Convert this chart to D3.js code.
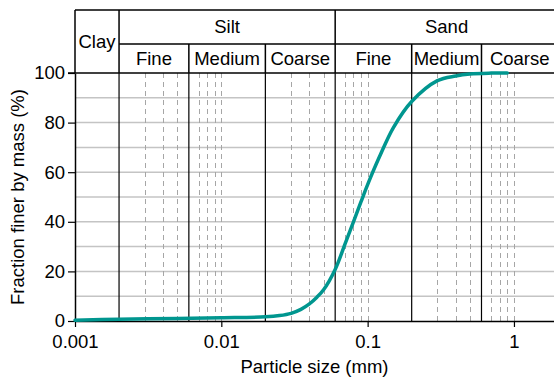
<!DOCTYPE html>
<html>
<head>
<meta charset="utf-8">
<script src="https://cdn.jsdelivr.net/npm/d3@7"></script>
<style>
  html, body { margin: 0; padding: 0; background: #fff; }
  svg { display: block; font-family: "Liberation Sans", Arial, sans-serif; }
</style>
</head>
<body>
<svg id="chart" width="554" height="377"></svg>
<script>
// Grain-size distribution (cumulative percent finer)
const particleSize = [0.001, 0.002, 0.005, 0.01, 0.02, 0.025, 0.03, 0.035, 0.04, 0.045, 0.05, 0.06, 0.07, 0.08, 0.09, 0.1, 0.12, 0.15, 0.2, 0.3, 0.4, 0.5, 0.7, 0.9];
const percentFiner = [0.3, 0.7, 1.0, 1.3, 1.7, 2.2, 3.1, 4.7, 6.9, 9.6, 12.6, 20.8, 31, 40, 48, 55, 66, 78, 88.5, 96.9, 98.8, 99.6, 99.95, 100];

// Soil class boundaries (mm)
const classNames = ["Clay", "Silt", "Sand"];
const classEdges = [0.001, 0.002, 0.06, 2];
const subNames = ["Fine", "Medium", "Coarse", "Fine", "Medium", "Coarse"];
const subEdges = [0.002, 0.006, 0.02, 0.06, 0.2, 0.6, 2];
const minorSizes = [0.003, 0.004, 0.005, 0.007, 0.008, 0.009, 0.01,
                    0.03, 0.04, 0.05, 0.07, 0.08, 0.09, 0.1,
                    0.3, 0.4, 0.5, 0.7, 0.8, 0.9, 1];
const xTicks = [0.001, 0.01, 0.1, 1];
const xTickLabels = ["0.001", "0.01", "0.1", "1"];
const yTicks = [0, 20, 40, 60, 80, 100];
const yGrid = [10, 20, 30, 40, 50, 60, 70, 80, 90];

const svg = d3.select("#chart");
const mLeft = 75, mRight = 558, mTop = 10, midLine = 44, plotTop = 73, plotBottom = 321;
const fontSize = 18.5;

const x = d3.scaleLog().domain([0.001, 2]).range([mLeft, mRight]);
const y = d3.scaleLinear().domain([0, 100]).range([plotBottom, plotTop]);

// horizontal grid
svg.append("g").selectAll("line").data(yGrid).join("line")
  .attr("x1", mLeft).attr("x2", mRight)
  .attr("y1", d => y(d)).attr("y2", d => y(d))
  .attr("stroke", "#c4c4c4").attr("stroke-width", 1.5);

// dashed minor lines
svg.append("g").selectAll("line").data(minorSizes).join("line")
  .attr("x1", d => Math.round(x(d)) + 0.5).attr("x2", d => Math.round(x(d)) + 0.5)
  .attr("y1", plotTop).attr("y2", plotBottom)
  .attr("stroke", "#a6a6a6").attr("stroke-width", 1)
  .attr("stroke-dasharray", "5,4");

// class boundary lines through the plot
svg.append("g").selectAll("line").data(subEdges.slice(0, -1)).join("line")
  .attr("x1", d => x(d)).attr("x2", d => x(d))
  .attr("y1", plotTop).attr("y2", plotBottom)
  .attr("stroke", "#000").attr("stroke-width", 1.2);

// header frame
const header = svg.append("g");
header.append("line").attr("x1", mLeft).attr("x2", mRight).attr("y1", mTop).attr("y2", mTop)
  .attr("stroke", "#000").attr("stroke-width", 1.5);
header.append("line").attr("x1", x(0.002)).attr("x2", mRight).attr("y1", midLine).attr("y2", midLine)
  .attr("stroke", "#000").attr("stroke-width", 1.5);
header.append("line").attr("x1", mLeft - 7).attr("x2", mRight).attr("y1", plotTop).attr("y2", plotTop)
  .attr("stroke", "#000").attr("stroke-width", 1.5);
header.selectAll("line.cls").data(classEdges.slice(0, -1)).join("line")
  .attr("class", "cls")
  .attr("x1", d => x(d)).attr("x2", d => x(d))
  .attr("y1", mTop).attr("y2", plotTop)
  .attr("stroke", "#000").attr("stroke-width", 1.5);
header.selectAll("line.sub").data([0.006, 0.02, 0.2, 0.6]).join("line")
  .attr("class", "sub")
  .attr("x1", d => x(d)).attr("x2", d => x(d))
  .attr("y1", midLine).attr("y2", plotTop)
  .attr("stroke", "#000").attr("stroke-width", 1.5);

// class names
header.selectAll("text.cls").data(classNames).join("text")
  .attr("class", "cls")
  .attr("x", (d, i) => (x(classEdges[i]) + x(classEdges[i + 1])) / 2)
  .attr("y", (d, i) => i === 0 ? 48 : 33)
  .attr("text-anchor", "middle").attr("font-size", fontSize).attr("fill", "#000")
  .text(d => d);
header.selectAll("text.sub").data(subNames).join("text")
  .attr("class", "sub")
  .attr("x", (d, i) => (x(subEdges[i]) + x(subEdges[i + 1])) / 2)
  .attr("y", 65)
  .attr("text-anchor", "middle").attr("font-size", fontSize).attr("fill", "#000")
  .text(d => d);

// axes
const yAxis = svg.append("g").attr("transform", `translate(${mLeft},0)`)
  .call(d3.axisLeft(y).tickValues(yTicks).tickSize(7).tickPadding(3).tickSizeOuter(0));
const xAxis = svg.append("g").attr("transform", `translate(0,${plotBottom})`)
  .call(d3.axisBottom(x).tickValues(xTicks).tickFormat((d, i) => xTickLabels[i]).tickSize(6).tickPadding(8).tickSizeOuter(0));
[yAxis, xAxis].forEach(g => {
  g.select(".domain").attr("stroke", "#000").attr("stroke-width", 1.5);
  g.selectAll(".tick line").attr("stroke", "#000").attr("stroke-width", 1.2);
  g.selectAll("text").attr("font-size", fontSize).attr("fill", "#000")
    .attr("font-family", "Liberation Sans, Arial, sans-serif");
});

// axis titles
svg.append("text").attr("x", (mLeft + 554) / 2).attr("y", 373)
  .attr("text-anchor", "middle").attr("font-size", fontSize).text("Particle size (mm)");
svg.append("text")
  .attr("transform", `translate(24,${(plotTop + plotBottom) / 2}) rotate(-90)`)
  .attr("text-anchor", "middle").attr("font-size", fontSize).text("Fraction finer by mass (%)");

// distribution curve
const line = d3.line()
  .x((d, i) => x(particleSize[i]))
  .y(d => y(d))
  .curve(d3.curveCatmullRom.alpha(0.5));
svg.append("path").datum(percentFiner)
  .attr("d", line)
  .attr("fill", "none")
  .attr("stroke", "#00968f")
  .attr("stroke-width", 3.5)
  .attr("stroke-linecap", "round");
</script>
</body>
</html>
